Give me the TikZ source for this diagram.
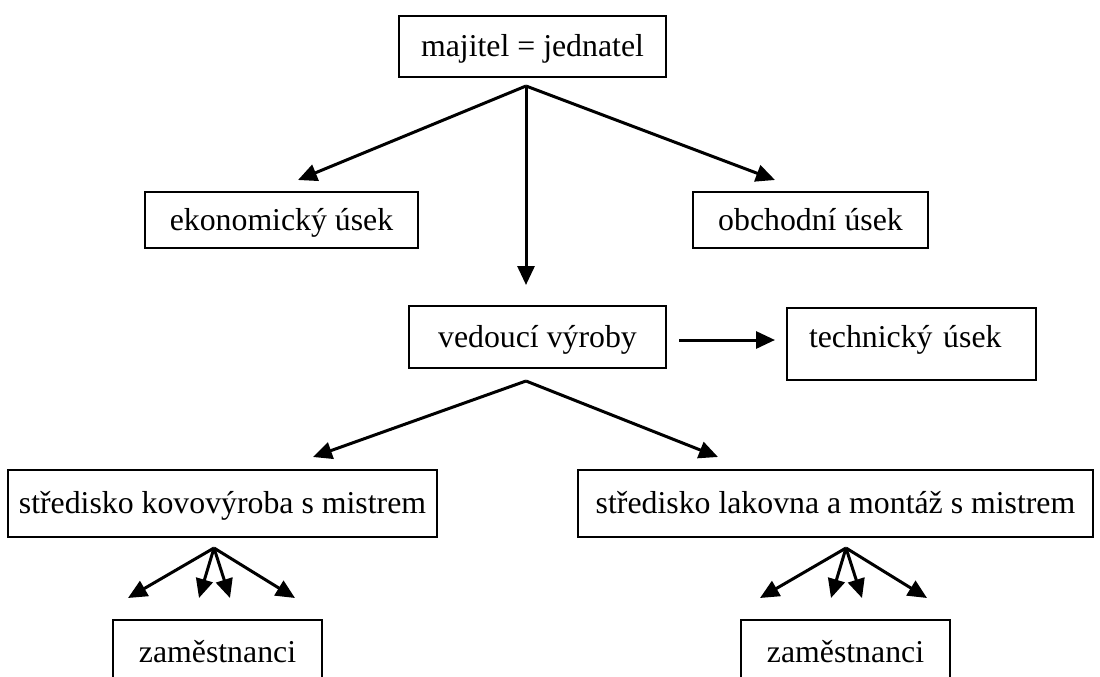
\documentclass[tikz,border=0pt]{standalone}
\usepackage{fontspec}
\setmainfont{Liberation Serif}
\usetikzlibrary{arrows.meta,positioning}

\begin{document}
\begin{tikzpicture}[x=1pt,y=-1pt,
    box/.style={draw,line width=1.8pt,inner xsep=0pt,inner ysep=0pt,
      text height=27pt,text depth=7pt,font=\fontsize{31.8}{38}\selectfont},
    arr/.style={line width=3pt,-{Triangle[length=19pt,width=17pt]}}]
 \path[use as bounding box,clip] (0,0) rectangle (1100,677);
 % boxes
 \node[box,minimum width=267pt,minimum height=61pt] (own) at (532.5,46.5) {majitel = jednatel};
 \node[box,minimum width=273pt,minimum height=56pt] (econ) at (281.5,220) {ekonomický úsek};
 \node[box,minimum width=235pt,minimum height=56pt] (trade) at (810.5,220) {obchodní úsek};
 \node[box,minimum width=257pt,minimum height=62pt] (prod) at (537.5,337) {vedoucí výroby};
 \node[box,text height=39pt,text depth=33pt,inner xsep=22pt,text width=205pt,align=left]
  (tech) at (911.5,344) {technický úsek};
 \node[box,minimum width=429pt,minimum height=67pt] (metal) at (222.5,503.5) {středisko kovovýroba s mistrem};
 \node[box,minimum width=515pt,minimum height=67pt] (paint) at (835.5,503.5) {středisko lakovna a montáž s mistrem};
 \node[box,minimum width=209pt,minimum height=65pt] (staffA) at (217.5,652.5) {zaměstnanci};
 \node[box,minimum width=209pt,minimum height=65pt] (staffB) at (845.5,652.5) {zaměstnanci};
 % arrow ends
 \coordinate (own-fork) at (526,86);
 \coordinate (econ-in) at (298,180);
 \coordinate (trade-in) at (775,180);
 \coordinate (prod-in) at (526,285);
 \coordinate (prod-out) at (679,340);
 \coordinate (tech-in) at (775,340);
 \coordinate (prod-fork) at (526,381);
 \coordinate (metal-in) at (313,457);
 \coordinate (paint-in) at (718,457);
 \coordinate (metal-fork) at (214,548);
 \coordinate (paint-fork) at (846,548);
 \draw[arr] (own-fork) -- (econ-in);
 \draw[arr] (own-fork) -- (trade-in);
 \draw[arr] (own-fork) -- (prod-in);
 \draw[arr] (prod-out) -- (tech-in);
 \draw[arr] (prod-fork) -- (metal-in);
 \draw[arr] (prod-fork) -- (paint-in);
 \foreach \X in {-86,-15,16,81} {
  \draw[arr] (metal-fork) -- ++(\X,50);
  \draw[arr] (paint-fork) -- ++(\X,50);
 }
\end{tikzpicture}
\end{document}
